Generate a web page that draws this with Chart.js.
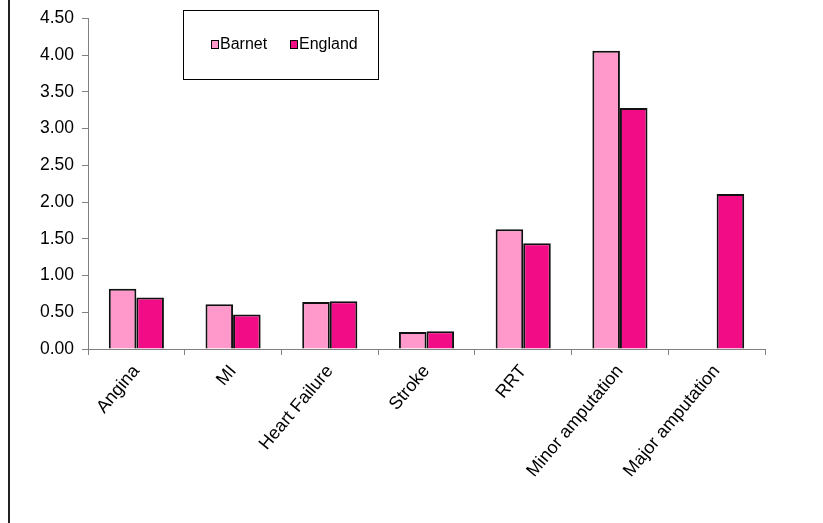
<!DOCTYPE html>
<html lang="en">
<head>
<meta charset="UTF-8">
<title>Barnet vs England</title>
<script src="https://cdn.jsdelivr.net/npm/chart.js"></script>
<style>
    html, body { margin: 0; padding: 0; background: #fff; }
    #wrap { width: 823px; height: 523px; position: relative; }
</style>
</head>
<body>
<div id="wrap"><canvas id="barChart"></canvas></div>
<script>
    // data
    const categories = ['Angina', 'MI', 'Heart Failure', 'Stroke', 'RRT', 'Minor amputation', 'Major amputation'];
    const barnetValues = [0.82, 0.61, 0.64, 0.23, 1.63, 4.06, null];
    const englandValues = [0.70, 0.47, 0.65, 0.24, 1.44, 3.28, 2.11];
    const yTicks = [0, 0.5, 1, 1.5, 2, 2.5, 3, 3.5, 4, 4.5];

    const FONT = '"Liberation Sans", Arial, sans-serif';
    const axisGrey = '#808080';

    // outer frame line on the left + boxed legend inside the plot
    const framePlugin = {
        id: 'frame',
        beforeDraw(chart) {
            const ctx = chart.ctx;
            ctx.save();
            ctx.strokeStyle = '#222';
            ctx.lineWidth = 2;
            ctx.beginPath();
            ctx.moveTo(9, 0);
            ctx.lineTo(9, 523);
            ctx.stroke();
            ctx.restore();
        },
        afterDraw(chart) {
            const ctx = chart.ctx;
            ctx.save();
            ctx.strokeStyle = '#000';
            ctx.lineWidth = 1;
            ctx.fillStyle = '#fff';
            ctx.fillRect(183.5, 10.5, 195, 69);
            ctx.strokeRect(183.5, 10.5, 195, 69);
            ctx.font = '16px ' + FONT;
            ctx.textBaseline = 'middle';
            const xs = [211, 290];
            chart.data.datasets.forEach((ds, i) => {
                ctx.fillStyle = ds.backgroundColor;
                ctx.fillRect(xs[i] + 0.5, 40.5, 7, 8);
                ctx.strokeRect(xs[i] + 0.5, 40.5, 7, 8);
                ctx.fillStyle = '#000';
                ctx.fillText(ds.label, xs[i] + 9, 45);
            });
            ctx.restore();
        }
    };

    const ctx = document.getElementById('barChart').getContext('2d');
    const chart = new Chart(ctx, {
        type: 'bar',
        data: {
            labels: categories,
            datasets: [{
                label: 'Barnet',
                data: barnetValues,
                backgroundColor: '#FF99CC',
                borderColor: '#111',
                borderWidth: 2
            }, {
                label: 'England',
                data: englandValues,
                backgroundColor: '#F20D87',
                borderColor: '#111',
                borderWidth: 2
            }]
        },
        options: {
            responsive: true,
            maintainAspectRatio: false,
            animation: false,
            categoryPercentage: 0.57,
            barPercentage: 1,
            layout: { padding: { left: 0, right: 58, top: 16, bottom: 0 } },
            plugins: {
                legend: { display: false },
                tooltip: { enabled: false }
            },
            scales: {
                x: {
                    grid: {
                        drawOnChartArea: false,
                        drawTicks: true,
                        tickLength: 6,
                        color: axisGrey,
                        offset: true
                    },
                    border: { color: axisGrey, width: 1 },
                    ticks: {
                        color: '#000',
                        font: { family: FONT, size: 18 },
                        minRotation: 50,
                        maxRotation: 50,
                        autoSkip: false,
                        padding: 6,
                        labelOffset: 0
                    },
                    afterFit(scale) { scale.height = 174; }
                },
                y: {
                    min: 0,
                    max: 4.5,
                    afterBuildTicks(scale) {
                        scale.ticks = yTicks.map(v => ({ value: v }));
                    },
                    grid: {
                        drawOnChartArea: false,
                        drawTicks: true,
                        tickLength: 6,
                        color: axisGrey
                    },
                    border: { color: axisGrey, width: 1 },
                    ticks: {
                        color: '#000',
                        font: { family: FONT, size: 17.5 },
                        padding: 8,
                        callback: v => Number(v).toFixed(2)
                    },
                    afterFit(scale) { scale.width = 88; }
                }
            }
        },
        plugins: [framePlugin]
    });
</script>
</body>
</html>
